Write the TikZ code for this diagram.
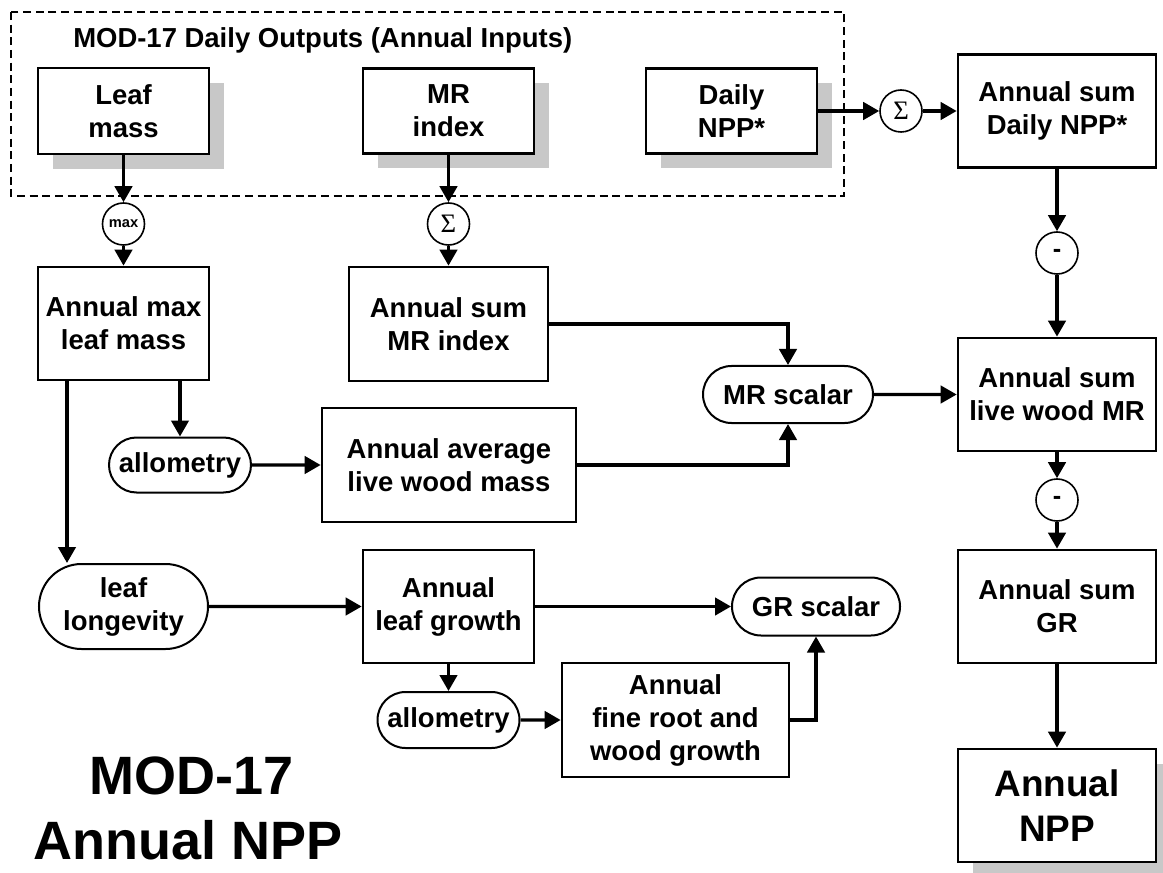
\documentclass[tikz,border=0pt]{standalone}
\usepackage{fontspec}
\setmainfont{Liberation Sans}
\newfontfamily\sigfont{Liberation Serif}
\usetikzlibrary{arrows.meta,shadows,shapes.misc,calc}
\definecolor{shadowgray}{RGB}{200,200,200}
\begin{document}
\begin{tikzpicture}[x=0.75pt,y=-0.75pt,
  every node/.style={font=\bfseries\fontsize{20.6}{24.75}\selectfont, align=center, inner sep=0pt},
  bx/.style 2 args={draw, line width=2pt, fill=white, rectangle, minimum width=#1*0.75pt, minimum height=#2*0.75pt},
  shd/.style={drop shadow={shadow xshift=11.25pt, shadow yshift=-11.25pt, fill=shadowgray, opacity=1}},
  pill/.style 2 args={draw, line width=1.5pt, fill=white, rounded rectangle, minimum width=#1*0.75pt, minimum height=#2*0.75pt},
  crc/.style={draw, circle, line width=1.2pt, fill=white, minimum size=42*0.75pt},
  sigtxt/.style={font=\sigfont\fontsize{20}{20}\selectfont},
  mintxt/.style={font=\bfseries\fontsize{19}{19}\selectfont},
  bigtxt/.style={anchor=base, text depth=0pt, font=\bfseries\fontsize{40.5}{53}\selectfont},
  arr/.style={line width=2.5pt, -{Triangle[length=12pt,width=13pt]}},
  dashbox/.style={draw, line width=1pt, dash pattern=on 6pt off 3.5pt}
]
\useasboundingbox (0,0) rectangle (1163,873);

% dashed group
\draw[dashbox] (11,12) rectangle (844,196);
\node[anchor=base west] (title) at (73,48) {MOD-17 Daily Outputs (Annual Inputs)};

% boxes
\node[bx={171}{86}, shd] (leaf) at (123.5,111) {Leaf\\mass};
\node[bx={171}{85}, shd] (mri) at (448.5,111) {MR\\index};
\node[bx={171}{85}, shd] (dnpp) at (731.5,111) {Daily\\NPP*};
\node[bx={198}{113}] (asdnpp) at (1057,111) {Annual sum\\Daily NPP*};

\node[crc, font=\bfseries\fontsize{11}{12}\selectfont] (max) at (123.5,224) {max};
\node[crc, sigtxt] (sig1) at (448.5,224) {Σ};
\node[crc, sigtxt] (sig2) at (901,111) {Σ};
\node[crc, mintxt] (m1) at (1057,253) {-};
\node[crc, mintxt] (m2) at (1057,500) {-};

\node[bx={171}{113}] (amlm) at (123.5,323.5) {Annual max\\leaf mass};
\node[bx={199}{114}] (asmri) at (448.5,324) {Annual sum\\MR index};
\node[pill={170}{57}] (mrs) at (788,394.5) {MR scalar};
\node[bx={198}{113}] (aslwmr) at (1057,394.5) {Annual sum\\live wood MR};
\node[pill={142}{55}] (allo1) at (180,465) {allometry};
\node[bx={254}{114}] (aalwm) at (449,465) {Annual average\\live wood mass};

\node[pill={169}{85}] (ll) at (123.5,606.5) {leaf\\longevity};
\node[bx={171}{113}] (alg) at (448.5,606.5) {Annual\\leaf growth};
\node[pill={168}{58}] (grs) at (816,606.5) {GR scalar};
\node[bx={198}{113}] (asgr) at (1057,606.5) {Annual sum\\GR};
\node[pill={142}{56}] (allo2) at (448.5,720) {allometry};
\node[bx={227}{114}] (afr) at (675.5,720) {Annual\\fine root and\\wood growth};
\node[bx={198}{113}, shd, font=\bfseries\fontsize{27.7}{33.75}\selectfont] (anpp) at (1057,805.5) {Annual\\NPP};

\node[bigtxt] (big1) at (192,794) {MOD-17};
\node[bigtxt] (big2) at (188,859) {Annual NPP};

% connectors
\coordinate (lx) at (67,0);
\draw[arr] (leaf) -- (max);
\draw[arr] (max) -- (amlm);
\draw[arr] (mri) -- (sig1);
\draw[arr] (sig1) -- (asmri);
\draw[arr] (dnpp) -- (sig2);
\draw[arr] (sig2) -- (asdnpp);
\draw[arr] (asdnpp) -- (m1);
\draw[arr] (m1) -- (aslwmr);
\draw[arr] (aslwmr) -- (m2);
\draw[arr] (m2) -- (asgr);
\draw[arr] (asgr) -- (anpp);
\draw[arr] (asmri.east) -| (mrs.north);
\draw[arr] (aalwm.east) -| (mrs.south);
\draw[arr] (mrs) -- (aslwmr);
\draw[arr] (lx |- amlm.south) -- (lx |- ll.north);
\draw[arr] (allo1.north |- amlm.south) -- (allo1.north);
\draw[arr] (allo1) -- (aalwm);
\draw[arr] (ll) -- (alg);
\draw[arr] (alg) -- (grs);
\draw[arr] (alg.south) -- (allo2.north);
\draw[arr] (allo2) -- (afr);
\draw[arr] (afr.east) -| (grs.south);
\end{tikzpicture}
\end{document}
